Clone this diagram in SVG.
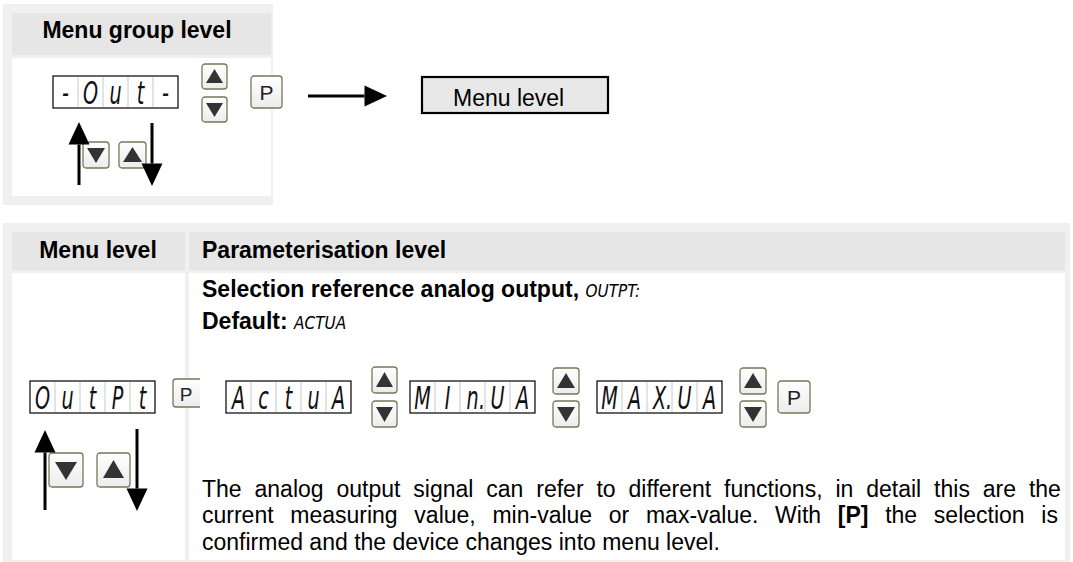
<svg xmlns="http://www.w3.org/2000/svg" width="1073" height="562" viewBox="0 0 1073 562">
<style>
text{font-family:"Liberation Sans",Arial,sans-serif;fill:#000}
.h{font-size:23px;font-weight:bold}
.b{font-size:23px}
.seg{font-family:"DejaVu Sans",sans-serif;font-style:italic;font-size:32px;fill:#111}
.segi{font-family:"DejaVu Sans Condensed","DejaVu Sans",sans-serif;font-stretch:condensed;font-style:italic;font-weight:normal;font-size:17px}
.disp{fill:#fff;stroke:#000;stroke-width:1.2}
.div{stroke:#c8c8c8;stroke-width:1}
.btn{fill:url(#bg);stroke:#77775a;stroke-width:1.3}
.tri{fill:#333}
.ptxt{font-size:21px;fill:#222;text-anchor:middle}
.arr{stroke:#000;stroke-width:3;fill:none;marker-end:url(#ah)}
</style>
<defs>
<linearGradient id="bg" x1="0" y1="0" x2="0" y2="1">
<stop offset="0" stop-color="#ffffff"/>
<stop offset="1" stop-color="#ececec"/>
</linearGradient>
<marker id="ah" markerUnits="strokeWidth" markerWidth="7.5" markerHeight="7" refX="0" refY="3.5" orient="auto" overflow="visible">
<path d="M0,0 L7.5,3.5 L0,7 z" fill="#000"/>
</marker>
<clipPath id="pclip"><rect x="160" y="370" width="40" height="50"/></clipPath>
</defs>

<g id="panel-menu-group">
<rect x="3" y="4" width="270" height="201" fill="#f0f0f0"/>
<rect x="12" y="13" width="259" height="42" fill="#e6e6e6"/>
<rect x="12" y="58" width="259" height="138" fill="#fff"/>
<text class="h" x="137" y="38" text-anchor="middle">Menu group level</text>
</g>

<g id="disp-out" transform="translate(53,76)">
<rect class="disp" x="0" y="0" width="125" height="32"/>
<path class="div" d="M25,1V31M50,1V31M75,1V31M100,1V31"/>
<text class="seg" transform="scale(0.6,1)" y="28" text-anchor="middle" x="20.8 62.5 104.2 145.8 187.5">-Out-</text>
</g>

<g id="btn-up-1" transform="translate(202,64)">
<rect class="btn" x="0" y="0" width="25" height="25" rx="3"/>
<polygon class="tri" points="12.5,5 21,19 4,19"/>
</g>
<g id="btn-down-1" transform="translate(202,97)">
<rect class="btn" x="0" y="0" width="25" height="25" rx="3"/>
<polygon class="tri" points="4,6 21,6 12.5,20"/>
</g>
<g id="btn-p-1" transform="translate(251,76)">
<rect class="btn" x="0" y="0" width="31" height="32" rx="3"/>
<text class="ptxt" x="15.5" y="24">P</text>
</g>

<g id="btn-down-2" transform="translate(83,142)">
<rect class="btn" x="0" y="0" width="26" height="26" rx="3"/>
<polygon class="tri" points="4,6 22,6 13,21"/>
</g>
<g id="btn-up-2" transform="translate(119,142)">
<rect class="btn" x="0" y="0" width="27" height="26" rx="3"/>
<polygon class="tri" points="13.5,5 23,20 4,20"/>
</g>

<g id="menu-level-box">
<rect x="422" y="77" width="186" height="36" fill="#e8e8e8" stroke="#000" stroke-width="2.2"/>
<text class="b" x="453" y="106">Menu level</text>
</g>

<g id="table">
<rect x="3" y="223" width="1067" height="339" fill="#f0f0f0"/>
<rect x="12" y="232" width="173" height="38" fill="#e6e6e6"/>
<rect x="189" y="232" width="876" height="38" fill="#e6e6e6"/>
<rect x="12" y="273" width="173" height="287" fill="#fff"/>
<rect x="189" y="273" width="876" height="287" fill="#fff"/>
<text class="h" x="98" y="258" text-anchor="middle">Menu level</text>
<text class="h" x="202" y="258">Parameterisation level</text>
<text class="h" x="202" y="297">Selection reference analog output, <tspan class="segi">OUTPT:</tspan></text>
<text class="h" x="202" y="329">Default: <tspan class="segi">ACTUA</tspan></text>
<text class="b" x="202" y="497" style="word-spacing:6.5px">The analog output signal can refer to different functions, in detail this are the</text>
<text class="b" x="202" y="523" style="word-spacing:10.3px">current measuring value, min-value or max-value. With <tspan font-weight="bold">[P]</tspan> the selection is</text>
<text class="b" x="202" y="550">confirmed and the device changes into menu level.</text>
</g>

<g id="disp-outpt" transform="translate(30,381)">
<rect class="disp" x="0" y="0" width="125" height="32"/>
<path class="div" d="M25,1V31M50,1V31M75,1V31M100,1V31"/>
<text class="seg" transform="scale(0.6,1)" y="28" text-anchor="middle" x="20.8 62.5 104.2 145.8 187.5">OutPt</text>
</g>

<g id="btn-p-2" clip-path="url(#pclip)">
<rect class="btn" x="173" y="379" width="32" height="28" rx="3"/>
<text class="ptxt" x="186" y="401" style="font-size:19px">P</text>
</g>

<g id="btn-down-3" transform="translate(49,453)">
<rect class="btn" x="0" y="0" width="34" height="34" rx="3"/>
<polygon class="tri" points="6,9 28,9 17,27"/>
</g>
<g id="btn-up-3" transform="translate(97,453)">
<rect class="btn" x="0" y="0" width="33" height="34" rx="3"/>
<polygon class="tri" points="16.5,7 27,25 6,25"/>
</g>

<g id="disp-actua" transform="translate(226,381)">
<rect class="disp" x="0" y="0" width="125" height="32"/>
<path class="div" d="M25,1V31M50,1V31M75,1V31M100,1V31"/>
<text class="seg" transform="scale(0.6,1)" y="28" text-anchor="middle" x="20.8 62.5 104.2 145.8 187.5">ActuA</text>
</g>
<g id="btn-up-4" transform="translate(372,367)">
<rect class="btn" x="0" y="0" width="25" height="26" rx="3"/>
<polygon class="tri" points="12.5,5 21,20 4,20"/>
</g>
<g id="btn-down-4" transform="translate(372,401)">
<rect class="btn" x="0" y="0" width="25" height="26" rx="3"/>
<polygon class="tri" points="4,6 21,6 12.5,21"/>
</g>

<g id="disp-minua" transform="translate(410,381)">
<rect class="disp" x="0" y="0" width="125" height="32"/>
<path class="div" d="M25,1V31M50,1V31M75,1V31M100,1V31"/>
<text class="seg" transform="scale(0.6,1)" y="28" text-anchor="middle" x="20.8 62.5 104.2 120 145.8 187.5">MIn.UA</text>
</g>
<g id="btn-up-5" transform="translate(553,368)">
<rect class="btn" x="0" y="0" width="26" height="26" rx="3"/>
<polygon class="tri" points="13,5 22,20 4,20"/>
</g>
<g id="btn-down-5" transform="translate(553,401)">
<rect class="btn" x="0" y="0" width="26" height="26" rx="3"/>
<polygon class="tri" points="4,6 22,6 13,21"/>
</g>

<g id="disp-maxua" transform="translate(597,381)">
<rect class="disp" x="0" y="0" width="125" height="32"/>
<path class="div" d="M25,1V31M50,1V31M75,1V31M100,1V31"/>
<text class="seg" transform="scale(0.6,1)" y="28" text-anchor="middle" x="20.8 62.5 104.2 120 145.8 187.5">MAX.UA</text>
</g>
<g id="btn-up-6" transform="translate(740,368)">
<rect class="btn" x="0" y="0" width="26" height="26" rx="3"/>
<polygon class="tri" points="13,5 22,20 4,20"/>
</g>
<g id="btn-down-6" transform="translate(740,401)">
<rect class="btn" x="0" y="0" width="26" height="26" rx="3"/>
<polygon class="tri" points="4,6 22,6 13,21"/>
</g>
<g id="btn-p-3" transform="translate(778,381)">
<rect class="btn" x="0" y="0" width="32" height="32" rx="3"/>
<text class="ptxt" x="16" y="24">P</text>
</g>

<g id="connectors">
<line class="arr" x1="79" y1="185" x2="79" y2="144.5"/>
<line class="arr" x1="152" y1="123" x2="152" y2="163.5"/>
<line class="arr" x1="308" y1="96" x2="364.5" y2="96"/>
<line class="arr" x1="45" y1="510" x2="45" y2="452.5"/>
<line class="arr" x1="137" y1="429" x2="137" y2="488.5"/>
</g>
</svg>
